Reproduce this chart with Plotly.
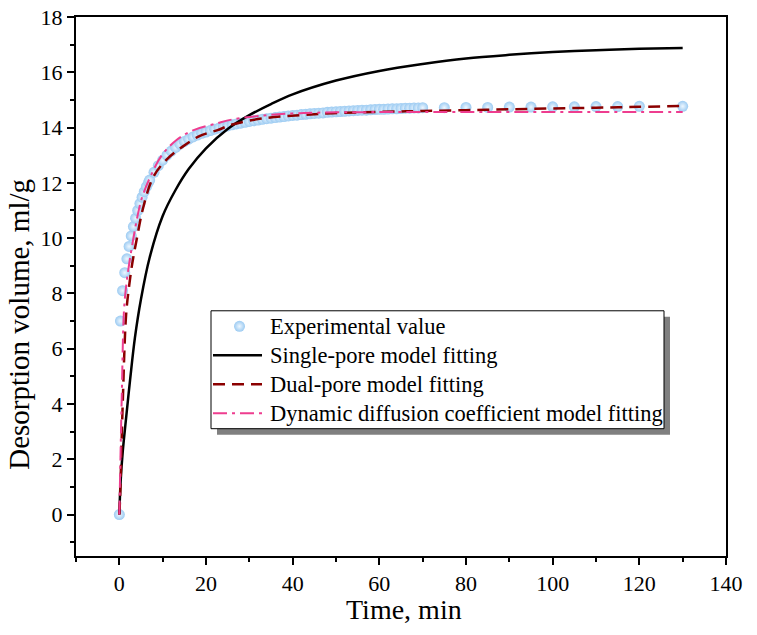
import plotly.graph_objects as go

# ---------------- data ----------------
exp_t = [0, 0.25, 0.75, 1.25, 1.75, 2.25, 2.75, 3.25, 3.75, 4.25, 4.75, 5.25, 5.75, 6.25, 6.75,
         7, 8, 9, 10, 11, 12, 13, 14, 15, 16, 17, 18, 19, 20, 21, 22, 23, 24, 25, 26, 27, 28, 29, 30,
         31, 32, 33, 34, 35, 36, 37, 38, 39, 40, 41, 42, 43, 44, 45, 46, 47, 48, 49, 50,
         51, 52, 53, 54, 55, 56, 57, 58, 59, 60, 61, 62, 63, 64, 65, 66, 67, 68, 69, 70,
         75, 80, 85, 90, 95, 100, 105, 110, 115, 120, 130]
exp_v = [0, 7.0, 8.1, 8.75, 9.25, 9.7, 10.08, 10.42, 10.72, 11.0, 11.25, 11.48, 11.68, 11.86, 12.02,
         12.1, 12.38, 12.62, 12.82, 13.0, 13.15, 13.28, 13.4, 13.5, 13.58, 13.66, 13.73, 13.79, 13.84,
         13.89, 13.94, 13.98, 14.02, 14.06, 14.1, 14.13, 14.16, 14.19, 14.22,
         14.25, 14.27, 14.3, 14.32, 14.34, 14.36, 14.38, 14.40, 14.42, 14.44,
         14.45, 14.47, 14.48, 14.5, 14.51, 14.52, 14.53, 14.55, 14.56, 14.57,
         14.58, 14.59, 14.6, 14.61, 14.62, 14.63, 14.63, 14.64, 14.65, 14.66,
         14.66, 14.67, 14.68, 14.68, 14.69, 14.7, 14.7, 14.71, 14.71, 14.72,
         14.72, 14.73, 14.73, 14.74, 14.74, 14.75, 14.75, 14.76, 14.76, 14.77, 14.77]

single_t = [0, 0.3, 0.8, 1.5, 2.5, 3.6, 5, 7, 10, 13, 16, 20, 25, 30, 35, 40, 50, 60, 70, 80, 90, 100, 110, 120, 130]
single_v = [0, 1.2, 2.3, 3.4, 4.9, 6.4, 7.8, 9.3, 10.8, 11.75, 12.5, 13.25, 13.95, 14.45, 14.85, 15.2, 15.7,
            16.05, 16.3, 16.5, 16.63, 16.73, 16.8, 16.85, 16.88]

dual_t = [0, 0.16, 0.78, 1.55, 2.2, 3, 4, 5.5, 7.8, 10.9, 14.7, 18.6, 22.5, 26.3, 34, 41.7, 49.4, 61,
          70, 80, 90, 100, 110, 120, 130]
dual_v = [0, 0.56, 4.0, 7.2, 8.2, 9.1, 9.95, 11.1, 12.2, 12.84, 13.32, 13.7, 13.9, 14.12, 14.35, 14.45,
          14.52, 14.57, 14.6, 14.63, 14.66, 14.69, 14.72, 14.75, 14.78]

dyn_t = [0, 0.1, 0.55, 1.08, 1.6, 2.3, 3.2, 4.2, 5.2, 7.1, 9.8, 13.2, 17, 22.5, 26.3, 34, 41.7, 50,
         60, 70, 80, 90, 100, 110, 120, 130]
dyn_v = [0, 0.8, 4.2, 7.4, 8.3, 9.1, 9.95, 10.8, 11.45, 12.2, 13.0, 13.55, 13.9, 14.15, 14.3, 14.45,
         14.52, 14.55, 14.56, 14.56, 14.56, 14.56, 14.56, 14.56, 14.56, 14.56]

names = ["Experimental value", "Single-pore model fitting", "Dual-pore model fitting",
         "Dynamic diffusion coefficient model fitting"]
x_title = "Time, min"
y_title = "Desorption volume, ml/g"

X_RANGE = [-10, 140]
Y_RANGE = [-1.5, 18]

# ---------------- styling / layout ----------------
FONT = "Liberation Serif"
W, H = 757, 635
L, R, T, B = 76, 726, 17, 556.4          # plot-area edges in pixels

def pxx(xp):  # pixel x -> paper x
    return (xp - L) / (R - L)

def pxy(yp):  # pixel y -> paper y
    return (B - yp) / (B - T)

MARKER = dict(size=11, color="#9CCBF2", line=dict(width=0),
              gradient=dict(type="radial", color="#EEF7FF"))
STYLES = [
    None,
    dict(color="black", width=2.5),
    dict(color="#8B0000", width=2.5, dash="12px,7px"),
    dict(color="#EE3D8F", width=2, dash="14px,5px,3px,5px"),
]

fig = go.Figure()
fig.add_trace(go.Scatter(x=exp_t, y=exp_v, mode="markers", name=names[0],
                         marker=MARKER, showlegend=False))
for t, v, nm, st in [(single_t, single_v, names[1], STYLES[1]),
                     (dual_t, dual_v, names[2], STYLES[2]),
                     (dyn_t, dyn_v, names[3], STYLES[3])]:
    fig.add_trace(go.Scatter(x=t, y=v, mode="lines", name=nm, showlegend=False,
                             line=dict(shape="spline", **st)))

axis_common = dict(
    showline=True, linecolor="black", linewidth=2, mirror=True,
    ticks="outside", ticklen=7, tickwidth=2, tickcolor="black",
    showgrid=False, zeroline=False, automargin=False,
    tickfont=dict(family=FONT, size=22, color="black"),
)
fig.update_xaxes(range=X_RANGE, tick0=0, dtick=20,
                 minor=dict(ticks="outside", ticklen=4, tickwidth=2, tickcolor="black", dtick=10, tick0=0),
                 **axis_common)
fig.update_yaxes(range=Y_RANGE, tick0=0, dtick=2,
                 minor=dict(ticks="outside", ticklen=4, tickwidth=2, tickcolor="black", dtick=1, tick0=0),
                 **axis_common)

# axis titles
fig.add_annotation(text=x_title, xref="paper", yref="paper", x=pxx(404), y=pxy(610),
                   xanchor="center", yanchor="middle", showarrow=False,
                   font=dict(family=FONT, size=28, color="black"))
fig.add_annotation(text=y_title, textangle=-90, xref="paper", yref="paper",
                   x=pxx(19), y=pxy(325), xanchor="center", yanchor="middle", showarrow=False,
                   font=dict(family=FONT, size=29, color="black"))

# ---------------- legend (drawn by hand to match box size) ----------------
LG = dict(x0=211, x1=664, y0=311, y1=429)
SH = 6
rows_y = [326.5, 355.5, 384.5, 413.5]
sym_x0, sym_x1, text_x = 213, 262, 268

fig.add_shape(type="rect", xref="paper", yref="paper",
              x0=pxx(LG["x0"] + SH), x1=pxx(LG["x1"] + SH),
              y0=pxy(LG["y1"] + SH), y1=pxy(LG["y0"] + SH),
              fillcolor="#808080", line=dict(width=0), layer="below")
fig.add_shape(type="rect", xref="paper", yref="paper",
              x0=pxx(LG["x0"]), x1=pxx(LG["x1"]), y0=pxy(LG["y1"]), y1=pxy(LG["y0"]),
              fillcolor="white", line=dict(color="black", width=1), layer="below")
for i in (1, 2, 3):
    fig.add_shape(type="line", xref="paper", yref="paper",
                  x0=pxx(sym_x0), x1=pxx(sym_x1), y0=pxy(rows_y[i]), y1=pxy(rows_y[i]),
                  line=STYLES[i], layer="below")
for i, nm in enumerate(names):
    fig.add_annotation(text=nm, xref="paper", yref="paper", x=pxx(text_x), y=pxy(rows_y[i]),
                       xanchor="left", yanchor="middle", showarrow=False,
                       font=dict(family=FONT, size=22.5, color="black"))

# legend marker symbol, placed on an overlay axis in pixel units
fig.add_trace(go.Scatter(x=[239.5], y=[rows_y[0]], mode="markers", marker=MARKER,
                         xaxis="x2", yaxis="y2", showlegend=False, hoverinfo="skip"))
fig.update_layout(
    xaxis2=dict(overlaying="x", range=[L, R], visible=False, fixedrange=True),
    yaxis2=dict(overlaying="y", range=[B, T], visible=False, fixedrange=True),
)

fig.update_layout(
    width=W, height=H,
    margin=dict(l=L, r=W - R, t=T, b=H - B),
    paper_bgcolor="white", plot_bgcolor="white",
    font=dict(family=FONT, color="black"),
    showlegend=False,
)

fig.write_html("out.html")
